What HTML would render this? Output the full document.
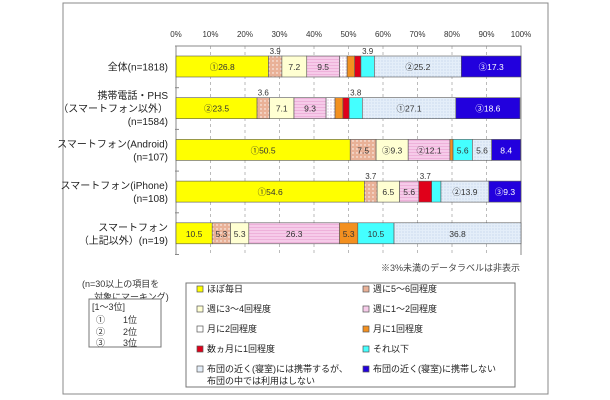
<!DOCTYPE html>
<html><head><meta charset="utf-8"><style>
body{margin:0;background:#fff;}
svg{display:block;font-family:"Liberation Sans","Noto Sans CJK JP",sans-serif;}
</style></head><body>
<svg id="chart" width="610" height="400" viewBox="0 0 610 400">
<defs>
<pattern id="p-dot" width="4" height="4" patternUnits="userSpaceOnUse"><rect width="4" height="4" fill="#e9b197"/><circle cx="1" cy="1" r="0.7" fill="#fff"/></pattern>
<pattern id="p-line" width="4" height="3" patternUnits="userSpaceOnUse"><rect width="4" height="3" fill="#f6cbe9"/><rect y="2" width="4" height="0.6" fill="#e9a0d0"/></pattern>
<pattern id="p-wdot" width="3" height="3" patternUnits="userSpaceOnUse"><rect width="3" height="3" fill="#fff"/><circle cx="1" cy="1" r="0.5" fill="#c080c0"/></pattern>
<pattern id="p-lb" width="3" height="3" patternUnits="userSpaceOnUse"><rect width="3" height="3" fill="#e4eef9"/><circle cx="1" cy="1" r="0.5" fill="#a8c0e0"/></pattern>
</defs>
<rect x="63" y="3" width="485" height="391" fill="none" stroke="#888"/>
<g id="plot"></g>
<g id="legend"></g>
</svg>
<script>
const categories=["全体(n=1818)","携帯電話・PHS|（スマートフォン以外）|(n=1584)","スマートフォン(Android)|(n=107)","スマートフォン(iPhone)|(n=108)","スマートフォン|（上記以外）(n=19)"];
const seriesNames=["ほぼ毎日","週に5～6回程度","週に3～4回程度","週に1～2回程度","月に2回程度","月に1回程度","数ヵ月に1回程度","それ以下","布団の近く(寝室)には携帯するが、|布団の中では利用はしない","布団の近く(寝室)に携帯しない"];
const row0=[26.8,3.9,7.2,9.5,2.2,2.2,1.8,3.9,25.2,17.3];
const row1=[23.5,3.6,7.1,9.3,2.6,2.3,1.8,3.8,27.1,18.6];
const row2=[50.5,7.5,9.3,12.1,0,0.9,0,5.6,5.6,8.4];
const row3=[54.6,3.7,6.5,5.6,0,0,3.7,2.7,13.9,9.3];
const row4=[10.5,5.3,5.3,26.3,0,5.3,0,10.5,36.8,0];
const ranks0=["①","","","","","","","","②","③"];
const ranks1=["②","","","","","","","","①","③"];
const ranks2=["①","","③","②","","","","","",""];
const ranks3=["①","","","","","","","","②","③"];
const ranks4=["","","","","","","","","",""];
const tickLabels=["0%","10%","20%","30%","40%","50%","60%","70%","80%","90%","100%"];
const rows=[row0,row1,row2,row3,row4];
const ranks=[ranks0,ranks1,ranks2,ranks3,ranks4];
const fills=["#ffff00","url(#p-dot)","#ffffd2","url(#p-line)","url(#p-wdot)","#f39020","#e0001a","#44ffff","url(#p-lb)","#2200dd"];
const legendSwatch=["#ffff00","#e9b197","#ffffd2","#f6cbe9","#fff","#f39020","#e0001a","#44ffff","#e4eef9","#2200dd"];
const X0=176,X1=521,Y0=46,Y1=255,ROWH=41.7,BARH=21;
const NS="http://www.w3.org/2000/svg";
const xs=v=>X0+(X1-X0)*v/100;
const ys=i=>Y0+10+i*ROWH;
function mk(tag,attrs,parent,text){const e=document.createElementNS(NS,tag);for(const k in attrs)e.setAttribute(k,attrs[k]);if(text!==undefined)e.textContent=text;parent.appendChild(e);return e;}
const plot=document.getElementById('plot');
// gridlines & ticks
tickLabels.forEach((t,i)=>{const x=xs(i*10);
 if(i>0&&i<10){const g=mk('line',{x1:x,x2:x,y1:Y0,y2:Y1,stroke:'#bbb','stroke-dasharray':'3,3'},plot);
 
 }
 const tl=mk('text',{x:x,y:37,'font-size':8,'text-anchor':'middle',fill:'#333'},plot,t);
 
 
});
const ax=mk('path',{d:`M${X0},${Y0}H${X1}V${Y1}M${X0},${Y0}V${Y1}`,stroke:'#888',fill:'none'},plot);


for(let i=0;i<=5;i++){const y=Y0+i*ROWH;const tk=mk('line',{x1:X0-1,x2:X0+3,y1:y,y2:y,stroke:'#888'},plot);
 
 }
rows.forEach((row,ri)=>{
 const y=ys(ri);let acc=0;
 const lines=categories[ri].split('|');
 const cy=y+BARH/2;
 lines.forEach((ln,li)=>{const t=mk('text',{x:168,y:cy+4+(li-(lines.length-1)/2)*13,'font-size':10,'text-anchor':'end',fill:'#222'},plot,ln);
  
  });
 row.forEach((v,si)=>{
  if(v>0){const x=xs(acc),w=xs(acc+v)-xs(acc);
   const r=mk('rect',{x:x,y:y,width:w,height:BARH,fill:fills[si],stroke:'#555','stroke-width':0.6},plot);
   
   
   if(v>=3){const lab=ranks[ri][si]+v.toFixed(1);const small=w<16&&!(ri===4);
    const above=small&&v<4;
    const t=mk('text',{x:x+w/2,y:above?y-2:y+BARH/2+3.5,'font-size':above?8:8.5,'text-anchor':'middle',fill:si===9?'#fff':'#333'},plot,lab);
    
    }
  }
  acc+=v;});
});
const note=mk('text',{x:520,y:271,'font-size':9,'text-anchor':'end',fill:'#444'},plot,'※3%未満のデータラベルは非表示');


// legend
const lg=document.getElementById('legend');
const lb=mk('rect',{x:186,y:283,width:329,height:104,fill:'#fff',stroke:'#777'},lg);


seriesNames.forEach((n,i)=>{const col=i%2,row=Math.floor(i/2);
 const x=col?363:197,y=292+row*20;
 const s=mk('rect',{x:x,y:y-6,width:6,height:6,fill:legendSwatch[i],stroke:'#555','stroke-width':0.7},lg);
 
 
 n.split('|').forEach((ln,li)=>{const t=mk('text',{x:x+10,y:y+li*12,'font-size':9,fill:'#222'},lg,ln);
  
  });
});
[["(n=30以上の項目を",82,287],["対象にマーキング)",94,300]].forEach(a=>{const t=mk('text',{x:a[1],y:a[2],'font-size':9,fill:'#333'},lg,a[0]);
 
 });
const rb=mk('rect',{x:89,y:299,width:72,height:48,fill:'#fff',stroke:'#777'},lg);


[["[1～3位]",92,310],["①　　1位",96,323],["②　　2位",96,335],["③　　3位",96,346]].forEach(a=>{const t=mk('text',{x:a[1],y:a[2],'font-size':9,fill:'#333'},lg,a[0]);
 
 });
</script>
</body></html>
